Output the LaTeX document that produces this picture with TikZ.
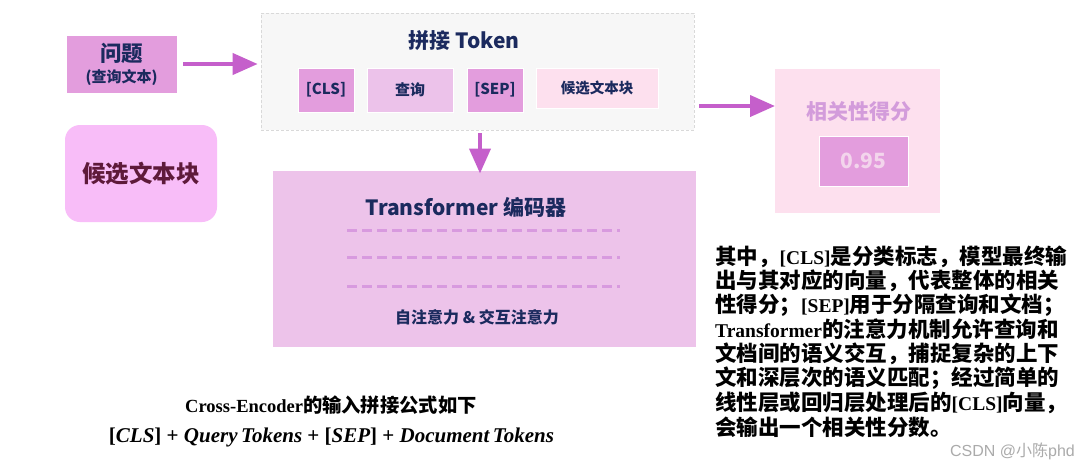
\documentclass[tikz,border=0pt]{standalone}
\usepackage{fontspec}
\usetikzlibrary{arrows.meta}
\setmainfont{Liberation Serif}
\newfontfamily\cjk{Noto Sans CJK SC}
\newfontfamily\tnr{Liberation Serif}
\newfontfamily\wm{Liberation Sans}
\definecolor{qfill}{HTML}{E39DDD}
\definecolor{queryfill}{HTML}{ECC2EA}
\definecolor{tokfill}{HTML}{FDE0EE}
\definecolor{candfill}{HTML}{F8BDF8}
\definecolor{contfill}{HTML}{F7F7F7}
\definecolor{contline}{HTML}{D9D9D9}
\definecolor{transfill}{HTML}{EDC3EA}
\definecolor{scorefill}{HTML}{FDE0EE}
\definecolor{arrowc}{HTML}{C55FCB}
\definecolor{navy}{HTML}{1B2A5E}
\definecolor{maroon}{HTML}{5E1A3A}
\definecolor{scoretext}{HTML}{D39CDB}
\definecolor{valtext}{HTML}{F3D5EC}
\definecolor{dashc}{HTML}{D89ADF}
\definecolor{wmgray}{HTML}{ABABAB}
\newcommand{\fs}[1]{\fontsize{#1}{#1}\selectfont}
\newcommand{\pl}[1]{{\tnr\bfseries\fs{19.5}#1}}
\tikzset{
  boxnode/.style={inner sep=0pt, outer sep=0pt, draw=white, line width=0.6pt},
  lbl/.style={inner sep=0pt, font=\cjk\bfseries, text=navy},
  arr/.style={draw=arrowc, line width=4pt, -{Triangle[length=25pt,width=21pt]}},
  dline/.style={draw=dashc, line width=3pt, dash pattern=on 10pt off 5pt},
  para/.style={anchor=west, inner sep=0pt, font=\cjk\bfseries\fs{21.5}, text=black},
}
\begin{document}
\begin{tikzpicture}[x=1pt,y=-1pt]
\useasboundingbox[fill=white] (0,0) rectangle (1080,469);

% question box
\node[boxnode, fill=qfill, minimum width=111pt, minimum height=58pt] (q) at (121.5,64) {};
\node[lbl, font=\cjk\bfseries\fs{21.5}] (qt) at (121.5,53) {问题};
\node[lbl, font=\cjk\bfseries\fs{15}] (qs) at (121.5,78) {(查询文本)};

% candidate box
\node[inner sep=0pt, fill=candfill, rounded corners=15pt, minimum width=152pt, minimum height=97pt,
      font=\cjk\bfseries\fs{23.5}, text=maroon] (cand) at (141,173.5) {候选文本块};

% concatenation container
\node[inner sep=0pt, draw=contline, dash pattern=on 3pt off 2pt, line width=0.7pt, fill=contfill,
      minimum width=433pt, minimum height=117pt] (cont) at (477.5,71.5) {};
\node[lbl, font=\cjk\bfseries\fs{21}] (ctitle) at (464,41) {拼接 Token};
\node[boxnode, fill=qfill, minimum width=56pt, minimum height=44pt, font=\cjk\bfseries\fs{15}, text=navy] (cls) at (326,90) {[CLS]};
\node[boxnode, fill=queryfill, minimum width=86pt, minimum height=44pt, font=\cjk\bfseries\fs{15}, text=navy] (query) at (410,90) {查询};
\node[boxnode, fill=qfill, minimum width=56pt, minimum height=44pt, font=\cjk\bfseries\fs{15}, text=navy] (sep) at (495,90) {[SEP]};
\node[boxnode, fill=tokfill, minimum width=122pt, minimum height=40pt, font=\cjk\bfseries\fs{14.5}, text=navy] (ctok) at (597,88) {候选文本块};

% transformer
\node[boxnode, fill=transfill, minimum width=424pt, minimum height=177pt] (tr) at (484,259) {};
\node[lbl, font=\cjk\bfseries\fs{21}] (trt) at (466,207) {Transformer 编码器};
\coordinate (d1a) at (347,230); \coordinate (d1b) at (620,230);
\coordinate (d2a) at (347,257); \coordinate (d2b) at (620,257);
\coordinate (d3a) at (347,286); \coordinate (d3b) at (620,286);
\draw[dline] (d1a) -- (d1b);
\draw[dline] (d2a) -- (d2b);
\draw[dline] (d3a) -- (d3b);
\node[lbl, font=\cjk\bfseries\fs{16}] (att) at (477,317) {自注意力 \& 交互注意力};

% score
\node[boxnode, fill=scorefill, minimum width=166pt, minimum height=145pt] (score) at (857,140.5) {};
\node[lbl, font=\cjk\bfseries\fs{21}, text=scoretext] (st) at (859,112) {相关性得分};
\node[boxnode, fill=qfill, minimum width=89pt, minimum height=50pt, font=\cjk\bfseries\fs{21}, text=valtext] (val) at (863.5,161) {0.95};

% arrows
\draw[arr, shorten <=6pt, shorten >=3pt] (q.east) -- (cont.west |- q.east);
\draw[arr, shorten <=3pt, shorten >=-3pt] (cont.south -| 480,0) -- (tr.north -| 480,0);
\draw[arr, shorten <=5pt, shorten >=-1pt] (cont.east |- 0,106) -- (score.west |- 0,106);

% explanation paragraph
\node[para] (p1) at (715,256.7) {其中，\pl{[CLS]}是分类标志，模型最终输};
\node[para] (p2) at (715,281.0) {出与其对应的向量，代表整体的相关};
\node[para] (p3) at (715,305.3) {性得分；\pl{[SEP]}用于分隔查询和文档；};
\node[para] (p4) at (715,329.6) {\pl{Transformer}的注意力机制允许查询和};
\node[para] (p5) at (715,353.9) {文档间的语义交互，捕捉复杂的上下};
\node[para] (p6) at (715,378.2) {文和深层次的语义匹配；经过简单的};
\node[para] (p7) at (715,402.5) {线性层或回归层处理后的\pl{[CLS]}向量，};
\node[para] (p8) at (715,426.8) {会输出一个相关性分数。};

% caption and formula
\node[inner sep=0pt] (cap) at (331,405) {{\tnr\bfseries\fs{18.5}Cross-Encoder}{\cjk\bfseries\fs{19.3}的输入拼接公式如下}};
\node[inner sep=0pt, font=\tnr\bfseries\fs{21}] (form) at (331.5,437)
  {[{\itshape CLS}] + {\itshape Query\,Tokens} + [{\itshape SEP}] + {\itshape Document\,Tokens}};

% watermark
\node[anchor=east, inner sep=0pt, text=wmgray] (wm) at (1075,451) {{\wm\fs{16}CSDN @}{\cjk\fs{16}小陈}{\wm\fs{16}phd}};
\end{tikzpicture}
\end{document}
